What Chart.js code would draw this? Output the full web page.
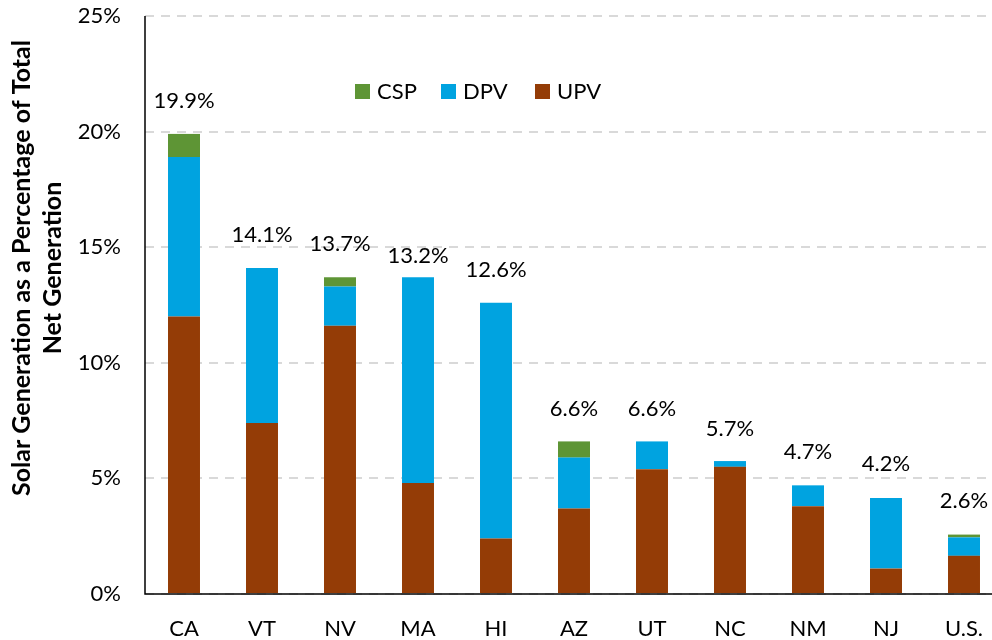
<!DOCTYPE html>
<html>
<head>
<meta charset="utf-8">
<script src="https://cdn.jsdelivr.net/npm/chart.js@4.4.1/dist/chart.umd.min.js"></script>
<style>
  html, body { margin: 0; padding: 0; background: #fff; overflow: hidden; }
  #wrap { width: 1012px; height: 640px; position: relative; }
</style>
</head>
<body>
<div id="wrap"><canvas id="chart"></canvas></div>
<script>
// Solar share of net generation by state
const states = ['CA', 'VT', 'NV', 'MA', 'HI', 'AZ', 'UT', 'NC', 'NM', 'NJ', 'U.S.'];
const upv = [12.0, 7.4, 11.6, 4.8, 2.4, 3.7, 5.4, 5.5, 3.8, 1.1, 1.65];
const dpv = [6.9, 6.7, 1.7, 8.9, 10.2, 2.2, 1.2, 0.25, 0.9, 3.05, 0.8];
const csp = [1.0, 0, 0.4, 0, 0, 0.7, 0, 0, 0, 0, 0.12];
const totals = [19.9, 14.1, 13.7, 13.2, 12.6, 6.6, 6.6, 5.7, 4.7, 4.2, 2.6];
const yTicks = [0, 5, 10, 15, 20, 25];
const yTitle = ['Solar Generation as a Percentage of Total', 'Net Generation'];

const FONT = 'Lato, "Open Sans", sans-serif';
const COLORS = { csp: '#5e9535', dpv: '#00a3e0', upv: '#943c06' };

// totals printed above each stack
const totalsPlugin = {
  id: 'totals',
  afterDatasetsDraw(chart) {
    const { ctx, scales } = chart;
    ctx.save();
    ctx.font = '22px ' + FONT;
    ctx.fillStyle = '#000';
    ctx.textAlign = 'center';
    ctx.textBaseline = 'middle';
    totals.forEach((t, i) => {
      const x = scales.x.getPixelForValue(i);
      const y = scales.y.getPixelForValue(t) - 33;
      ctx.fillText(t.toFixed(1) + '%', x, y);
    });
    ctx.restore();
  }
};

// legend sits inside the plot, CSP / DPV / UPV
const legendPlugin = {
  id: 'innerLegend',
  afterDraw(chart) {
    const { ctx } = chart;
    const items = [['CSP', COLORS.csp, 355], ['DPV', COLORS.dpv, 441], ['UPV', COLORS.upv, 535]];
    ctx.save();
    ctx.font = '22px ' + FONT;
    ctx.textBaseline = 'middle';
    items.forEach(([label, color, x]) => {
      ctx.fillStyle = color;
      ctx.fillRect(x, 84, 15, 15);
      ctx.fillStyle = '#000';
      ctx.fillText(label, x + 22, 92);
    });
    ctx.restore();
  }
};

// rotated y title, sits a bit above the axis middle like the original
const yTitlePlugin = {
  id: 'yTitle',
  afterDraw(chart) {
    const { ctx } = chart;
    ctx.save();
    ctx.translate(37, 268);
    ctx.rotate(-Math.PI / 2);
    ctx.font = 'bold 25px ' + FONT;
    ctx.fillStyle = '#000';
    ctx.textAlign = 'center';
    ctx.textBaseline = 'middle';
    ctx.fillText(yTitle[0], 0, -15.5);
    ctx.fillText(yTitle[1], 0, 15.5);
    ctx.restore();
  }
};

// black axis lines on left and bottom
const axisLines = {
  id: 'axisLines',
  afterDatasetsDraw(chart) {
    const { ctx, chartArea: a } = chart;
    ctx.save();
    ctx.strokeStyle = '#000';
    ctx.lineWidth = 1.5;
    ctx.beginPath();
    ctx.moveTo(a.left, a.top);
    ctx.lineTo(a.left, a.bottom);
    ctx.lineTo(a.right, a.bottom);
    ctx.stroke();
    ctx.restore();
  }
};

new Chart(document.getElementById('chart'), {
  type: 'bar',
  data: {
    labels: states,
    datasets: [
      { label: 'UPV', data: upv, backgroundColor: COLORS.upv },
      { label: 'DPV', data: dpv, backgroundColor: COLORS.dpv },
      { label: 'CSP', data: csp, backgroundColor: COLORS.csp },
    ]
  },
  options: {
    responsive: true,
    maintainAspectRatio: false,
    animation: false,
    layout: { padding: { top: 16, right: 9, left: 0, bottom: 0 } },
    datasets: { bar: { barPercentage: 0.41, categoryPercentage: 1 } },
    plugins: { legend: { display: false }, tooltip: { enabled: false } },
    scales: {
      x: {
        stacked: true,
        grid: { display: false },
        border: { display: false },
        ticks: { color: '#000', font: { family: FONT, size: 22 }, padding: 14, maxRotation: 0 },
        afterFit(scale) { scale.height = 46; }
      },
      y: {
        stacked: true,
        min: 0,
        max: 25,
        afterBuildTicks(scale) { scale.ticks = yTicks.map(v => ({ value: v })); },
        grid: { color: '#d9d9d9', lineWidth: 2, drawTicks: false },
        border: { display: false, dash: [9, 7] },
        ticks: {
          color: '#000',
          font: { family: FONT, size: 22 },
          padding: 24,
          callback: (v) => v + '%'
        },
        afterFit(scale) {
          scale.width = 145;
          scale.paddingTop = 0;
          scale.paddingBottom = 0;
        }
      }
    }
  },
  plugins: [totalsPlugin, legendPlugin, yTitlePlugin, axisLines]
});
</script>
</body>
</html>
